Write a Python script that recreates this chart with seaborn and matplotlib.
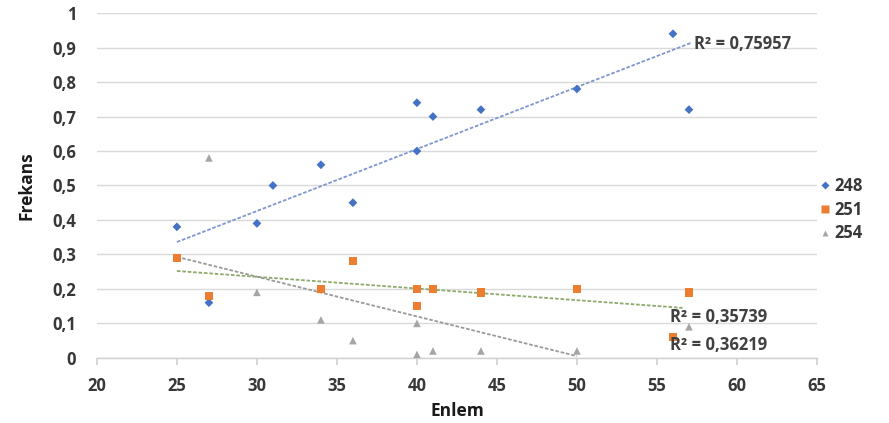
import matplotlib
matplotlib.use("Agg")
import matplotlib.pyplot as plt
import seaborn as sns
import pandas as pd
from matplotlib.ticker import FuncFormatter
from matplotlib.lines import Line2D

# ---- data ----
x_248 = [25, 27, 30, 31, 34, 36, 40, 40, 41, 44, 50, 56, 57]
y_248 = [0.38, 0.16, 0.39, 0.50, 0.56, 0.45, 0.74, 0.60, 0.70, 0.72, 0.78, 0.94, 0.72]

x_251 = [25, 27, 34, 36, 40, 40, 41, 44, 50, 56, 57]
y_251 = [0.29, 0.18, 0.20, 0.28, 0.20, 0.15, 0.20, 0.19, 0.20, 0.06, 0.19]

x_254 = [27, 30, 34, 36, 40, 40, 41, 44, 50, 57]
y_254 = [0.58, 0.19, 0.11, 0.05, 0.10, 0.01, 0.02, 0.02, 0.02, 0.09]

# trendline end points
trend_x_248 = [25, 57.2]
trend_y_248 = [0.336, 0.915]
trend_x_251 = [25, 56.6]
trend_y_251 = [0.252, 0.145]
trend_x_254 = [25, 50]
trend_y_254 = [0.293, 0.005]

r2_labels = ["R² = 0,75957", "R² = 0,35739", "R² = 0,36219"]
r2_pos_x = [57.3, 55.8, 55.8]
r2_pos_y = [0.91, 0.118, 0.036]

series_names = ["248", "251", "254"]
x_ticks = [20, 25, 30, 35, 40, 45, 50, 55, 60, 65]
y_ticks = [0, 0.1, 0.2, 0.3, 0.4, 0.5, 0.6, 0.7, 0.8, 0.9, 1]

# ---- build table ----
df = pd.concat([
    pd.DataFrame({"Enlem": x_248, "Frekans": y_248, "seri": "248"}),
    pd.DataFrame({"Enlem": x_251, "Frekans": y_251, "seri": "251"}),
    pd.DataFrame({"Enlem": x_254, "Frekans": y_254, "seri": "254"}),
])

sns.set_theme(style="white")
plt.rcParams["font.family"] = ["Open Sans", "DejaVu Sans"]

colors = {"248": "#4472C4", "251": "#ED7D31", "254": "#A5A5A5"}
markers = {"248": "D", "251": "s", "254": "^"}
sizes = {"248": 20, "251": 36, "254": 30}
trend_colors = ["#7F97D0", "#8DAA6A", "#9A9A9A"]

fig = plt.figure(figsize=(8.89, 4.23), dpi=100)
ax = fig.add_axes([0.109, 0.154, 0.81, 0.815])

for name in series_names:
    sub = df[df["seri"] == name]
    sns.scatterplot(data=sub, x="Enlem", y="Frekans", ax=ax, color=colors[name],
                    marker=markers[name], s=sizes[name], edgecolor="none",
                    zorder=3, legend=False)

for tx, ty, c in zip([trend_x_248, trend_x_251, trend_x_254],
                     [trend_y_248, trend_y_251, trend_y_254], trend_colors):
    sns.lineplot(x=tx, y=ty, ax=ax, color=c, linestyle=(0, (2, 1)), linewidth=1.3,
                 zorder=2, legend=False)

for lbl, px, py in zip(r2_labels, r2_pos_x, r2_pos_y):
    ax.text(px, py, lbl, fontsize=12, fontweight="bold", color="#404040",
            va="center", ha="left", zorder=4)

ax.set_xlim(20, 65)
ax.set_ylim(0, 1)
ax.set_xticks(x_ticks)
ax.set_yticks(y_ticks)
ax.yaxis.set_major_formatter(FuncFormatter(lambda v, p: ("%g" % round(v, 1)).replace(".", ",")))
ax.xaxis.set_major_formatter(FuncFormatter(lambda v, p: "%d" % v))

ax.grid(axis="y", color="#D9D9D9", linewidth=1.0)
ax.grid(axis="x", visible=False)
for s in ["top", "right", "left"]:
    ax.spines[s].set_visible(False)
ax.spines["bottom"].set_color("#D0D0D0")
ax.spines["bottom"].set_linewidth(1.0)
ax.tick_params(axis="x", bottom=True, length=5, color="#D0D0D0", direction="out",
               labelsize=12, labelcolor="#383838", pad=9)
ax.tick_params(axis="y", left=False, labelsize=12, labelcolor="#383838", pad=9)
for t in ax.get_xticklabels() + ax.get_yticklabels():
    t.set_fontweight("bold")

ax.set_xlabel("Enlem", fontsize=12.5, fontweight="bold", color="#1a1a1a", labelpad=5)
ax.set_ylabel("Frekans", fontsize=12.5, fontweight="bold", color="#1a1a1a", labelpad=12)

handles = [Line2D([], [], linestyle="none", marker=markers[n], color=colors[n],
                  markersize=4.5 if n != "251" else 5.5, markeredgecolor="none") for n in series_names]
leg = ax.legend(handles, series_names, loc="center left", bbox_to_anchor=(0.99, 0.43),
                frameon=False, fontsize=12, handlelength=0.6, handletextpad=0.3,
                labelspacing=0.35, borderaxespad=0.2)
for t in leg.get_texts():
    t.set_fontweight("bold")
    t.set_color("#383838")

fig.savefig("out.png", dpi=100)
